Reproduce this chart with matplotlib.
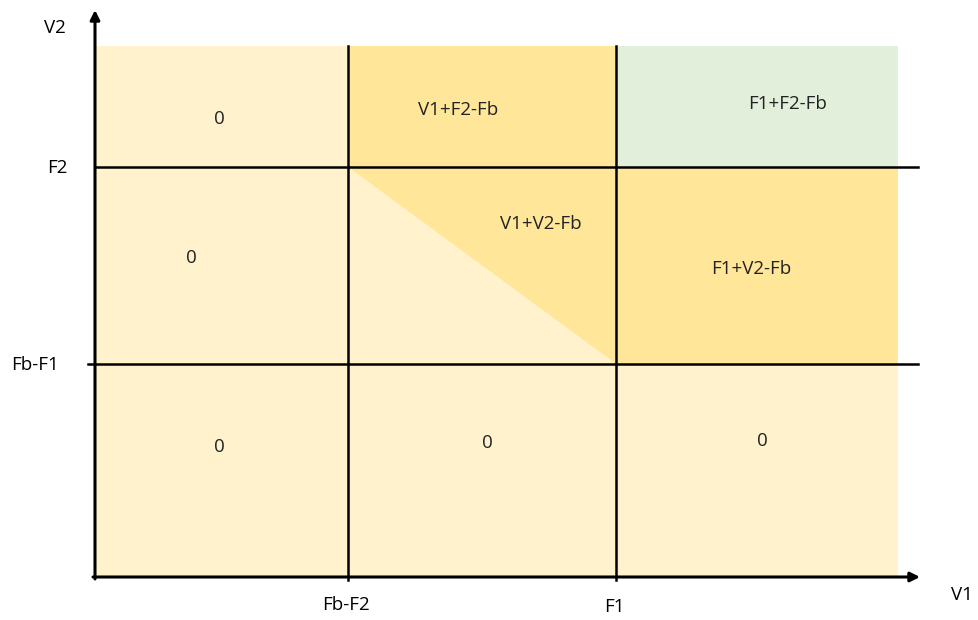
import matplotlib.pyplot as plt
from matplotlib.patches import Rectangle, Polygon

plt.rcParams['font.family'] = ['Open Sans', 'DejaVu Sans']

# Breakpoints on each axis (drawing units, origin at the axes corner)
x_breaks = [0, 253, 521, 803]          # 0, Fb-F2, F1, right edge of shading
y_breaks = [0, 213, 410, 531]          # 0, Fb-F1, F2, top edge of shading
x_tick_labels = ['Fb-F2', 'F1']
y_tick_labels = ['Fb-F1', 'F2']
x_axis_len = 825
y_axis_len = 567

# Cell labels, rows from bottom to top, columns left to right
cell_labels = [
    ['0', '0', '0'],
    ['0', 'V1+V2-Fb', 'F1+V2-Fb'],
    ['0', 'V1+F2-Fb', 'F1+F2-Fb'],
]
# label position inside each cell as a fraction of the cell
label_pos = [
    [(0.49, 0.61), (0.52, 0.63), (0.52, 0.64)],
    [(0.38, 0.54), (0.72, 0.71), (0.48, 0.48)],
    [(0.49, 0.40), (0.41, 0.47), (0.61, 0.52)],
]

cream = '#FFF2CC'
gold = '#FFE699'
green = '#E2EFDA'
cell_colors = [
    [cream, cream, cream],
    [cream, None, gold],
    [cream, gold, green],
]

fig = plt.figure(figsize=(9.79, 6.2), dpi=100)
ax = fig.add_axes([0, 0, 1, 1])
ax.set_xlim(-95, 884)
ax.set_ylim(-43, 577)
ax.axis('off')

# shaded cells
for r in range(3):
    for c in range(3):
        x0, x1 = x_breaks[c], x_breaks[c + 1]
        y0, y1 = y_breaks[r], y_breaks[r + 1]
        col = cell_colors[r][c]
        if col is None:
            # centre cell: split by the diagonal V1+V2 = Fb
            ax.add_patch(Polygon([(x0, y0), (x1, y0), (x0, y1)], closed=True,
                                 facecolor=cream, edgecolor='none'))
            ax.add_patch(Polygon([(x0, y1), (x1, y1), (x1, y0)], closed=True,
                                 facecolor=gold, edgecolor='none'))
        else:
            ax.add_patch(Rectangle((x0, y0), x1 - x0, y1 - y0,
                                   facecolor=col, edgecolor='none'))
        fx, fy = label_pos[r][c]
        ax.text(x0 + fx * (x1 - x0), y0 + fy * (y1 - y0), cell_labels[r][c],
                ha='center', va='center', fontsize=13.5, color='#222222')

# grid lines
lw = 1.8
for xb in x_breaks[1:3]:
    ax.plot([xb, xb], [-3, y_breaks[-1]], color='black', lw=lw)
ax.plot([0, 823], [y_breaks[2], y_breaks[2]], color='black', lw=lw)
ax.plot([-7, 823], [y_breaks[1], y_breaks[1]], color='black', lw=lw)

# axes with arrows
ax.annotate('', xy=(x_axis_len, 0), xytext=(-2, 0),
            arrowprops=dict(arrowstyle='-|>', color='black', lw=2.2,
                            mutation_scale=14, shrinkA=0, shrinkB=0))
ax.annotate('', xy=(0, y_axis_len), xytext=(0, -2),
            arrowprops=dict(arrowstyle='-|>', color='black', lw=2.2,
                            mutation_scale=14, shrinkA=0, shrinkB=0))

# axis labels
ax.text(-40, 549, 'V2', ha='center', va='center', fontsize=13.5)
ax.text(867, -18, 'V1', ha='center', va='center', fontsize=13.5)
ax.text(x_breaks[1] - 2, -28, x_tick_labels[0], ha='center', va='center', fontsize=13.5)
ax.text(x_breaks[2] - 2, -30, x_tick_labels[1], ha='center', va='center', fontsize=13.5)
ax.text(-60, y_breaks[1] - 1, y_tick_labels[0], ha='center', va='center', fontsize=13.5)
ax.text(-38, y_breaks[2] - 1, y_tick_labels[1], ha='center', va='center', fontsize=13.5)

fig.savefig('out.png', dpi=100)
